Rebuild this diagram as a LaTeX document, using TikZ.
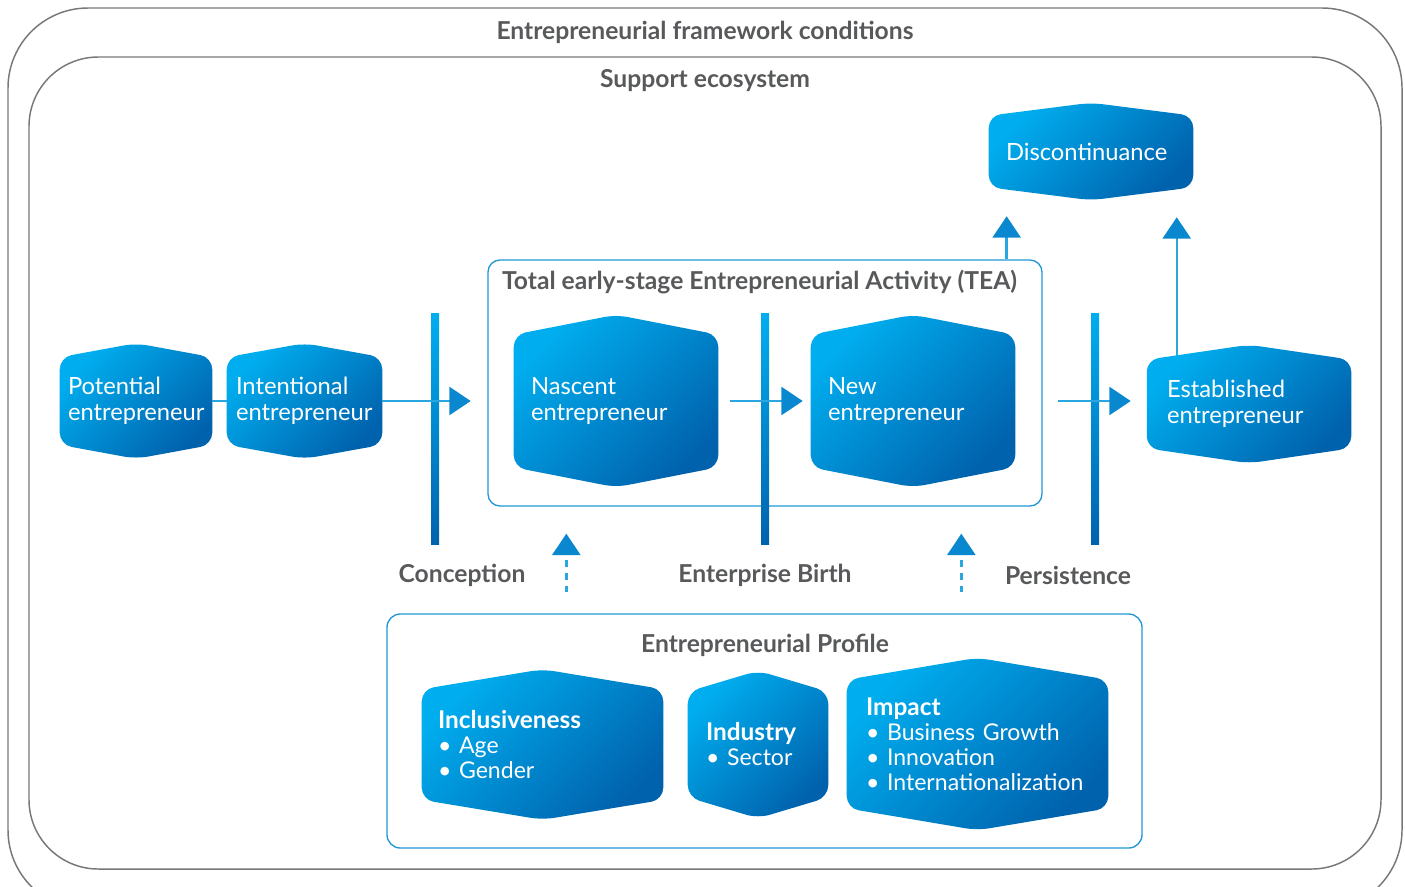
\documentclass[tikz,border=0pt]{standalone}
\usepackage{fontspec}
\setmainfont{Lato}
\usetikzlibrary{arrows.meta,calc,backgrounds}
\definecolor{hexlight}{RGB}{0,174,239}
\definecolor{hexdark}{RGB}{0,98,173}
\definecolor{linkblue}{RGB}{41,166,224}
\definecolor{tipblue}{RGB}{10,136,207}
\definecolor{boxblue}{RGB}{33,150,214}
\definecolor{framegrey}{RGB}{120,120,120}
\definecolor{titlegrey}{RGB}{88,89,91}
\hyphenpenalty=10000
\exhyphenpenalty=10000
% shaded six-sided body behind a node, #2 = height of the top/bottom point
\newcommand{\hexfill}[2]{%
  \shade[hexshade] (#1.north west) -- ($(#1.north)+(0,#2)$) -- (#1.north east)
    -- (#1.south east) -- ($(#1.south)+(0,-#2)$) -- (#1.south west) -- cycle;}
\newcommand{\itemhead}[1]{\textbf{\fontsize{18.3}{18.75}\selectfont #1}}
\begin{document}
\begin{tikzpicture}[x=0.75pt,y=0.75pt,line cap=round,line join=round,
    hexshade/.style={top color=hexlight,bottom color=hexdark,shading angle=45,rounded corners=9pt},
    hexbox/.style={inner xsep=#1,inner ysep=0pt,align=left,text=white,
      font=\fontsize{17.8}{19.5}\selectfont},
    hexbox/.default=12pt,
    itembox/.style={hexbox=#1,font=\fontsize{17.3}{18.75}\selectfont},
    title/.style={text=titlegrey,font=\fontsize{18.5}{20}\selectfont\bfseries},
    frame/.style={draw=framegrey,line width=1.1pt},
    bar/.style={top color=hexlight,bottom color=hexdark},
    link/.style={draw=linkblue,line width=1.8pt,line cap=butt},
    flow/.style={link,-{Triangle[length=16pt,width=21pt,color=tipblue]}},
    dashflow/.style={flow,dash pattern=on 5pt off 4.5pt}]
  \useasboundingbox (0,0) rectangle (1405,-886);
  % frames
  \draw[frame,rounded corners=60pt] (8,-8) rectangle (1402,-910);
  \draw[frame,rounded corners=52pt] (29,-57) rectangle (1381,-869);
  \node[title] (framework) at (705,-32) {Entrepreneurial framework conditions};
  \node[title] (ecosystem) at (705,-81) {Support ecosystem};
  \node[draw=boxblue,line width=1pt,rounded corners=9pt,minimum width=415.5pt,minimum height=184.5pt] (tea) at (765,-383) {};
  \node[title,anchor=west] (teatitle) at ($(tea.north west)+(10,-23)$) {Total early-stage Entrepreneurial Activity (TEA)};
  \node[draw=boxblue,line width=1pt,rounded corners=10pt,minimum width=566.25pt,minimum height=175.5pt] (profile) at (764.5,-731) {};
  \node[title] (profiletitle) at (765,-645) {Entrepreneurial Profile};
  % stage bars
  \shade[bar] (431,-313) rectangle (439,-544);
  \shade[bar] (761,-313) rectangle (769,-544);
  \shade[bar] (1091,-313) rectangle (1099,-544);
  \node[title] (conception) at (462,-575) {Conception};
  \node[title] (birth) at (765,-575) {Enterprise Birth};
  \node[title] (persistence) at (1068,-575) {Persistence};
  % stages
  \node[hexbox=6pt,text width=102pt,minimum width=114pt,minimum height=65.25pt] (potential) at (136,-401) {Potential\\entrepreneur};
  \node[hexbox=6.75pt,text width=102.75pt,minimum width=116.25pt,minimum height=65.25pt] (intentional) at (304.5,-401) {Intentional\\entrepreneur};
  \node[hexbox=12.75pt,text width=127.5pt,minimum width=153pt,minimum height=99pt] (nascent) at (616,-401) {Nascent\\entrepreneur};
  \node[hexbox=12.75pt,text width=127.5pt,minimum width=153pt,minimum height=99pt] (new) at (913,-401) {New\\entrepreneur};
  \node[hexbox=15pt,text width=123pt,minimum width=153pt,minimum height=66pt] (established) at (1249,-404) {Established\\entrepreneur};
  \node[hexbox=12.75pt,text width=127.5pt,minimum width=153pt,minimum height=53.25pt] (disc) at (1091,-151.5) {Discontinuance};
  % profile items
  \node[itembox=12pt,text width=156.75pt,minimum width=180.75pt,minimum height=82.5pt] (inclusive) at (542.5,-744.5) {\itemhead{Inclusiveness}\\• Age\\• Gender};
  \node[itembox=13.5pt,text width=78pt,minimum width=105pt,minimum height=78.75pt] (industry) at (758,-744.5) {\itemhead{Industry}\\• Sector};
  \node[itembox=14.25pt,text width=167.25pt,minimum width=195.75pt,minimum height=96pt] (impact) at (977.5,-744) {\itemhead{Impact}\\• Business Growth\\• Innovation\\• Internationalization};
  \begin{scope}[on background layer]
    \hexfill{potential}{14}
    \hexfill{intentional}{14}
    \hexfill{nascent}{20}
    \hexfill{new}{20}
    \hexfill{established}{15}
    \hexfill{disc}{13}
    \hexfill{inclusive}{20}
    \hexfill{industry}{21}
    \hexfill{impact}{22}
  \end{scope}
  % connectors
  \coordinate (teaout) at ($(tea.north east)+(-36,0)$);
  \coordinate (estout) at ($(established.north west)+(30,4)$);
  \coordinate (profileleft) at ($(profile.north west)+(180,0)$);
  \coordinate (profileright) at ($(profile.north west)+(575,0)$);
  \draw[link] (potential.east) -- (intentional.west);
  \draw[flow,shorten >=32.25pt] (intentional.east) -- (nascent.west);
  \draw[flow,shorten <=9pt,shorten >=6pt] (nascent.east) -- (new.west);
  \draw[flow,shorten <=32.25pt,shorten >=12pt] (new.east) -- (new.east -| established.west);
  \draw[flow,shorten >=21.75pt] (teaout) -- (teaout |- disc.south);
  \draw[flow,shorten >=22.5pt] (estout) -- (estout |- disc.south);
  \draw[dashflow,shorten <=15.75pt,shorten >=20.25pt] (profileleft) -- (profileleft |- tea.south);
  \draw[dashflow,shorten <=15.75pt,shorten >=20.25pt] (profileright) -- (profileright |- tea.south);
\end{tikzpicture}
\end{document}
